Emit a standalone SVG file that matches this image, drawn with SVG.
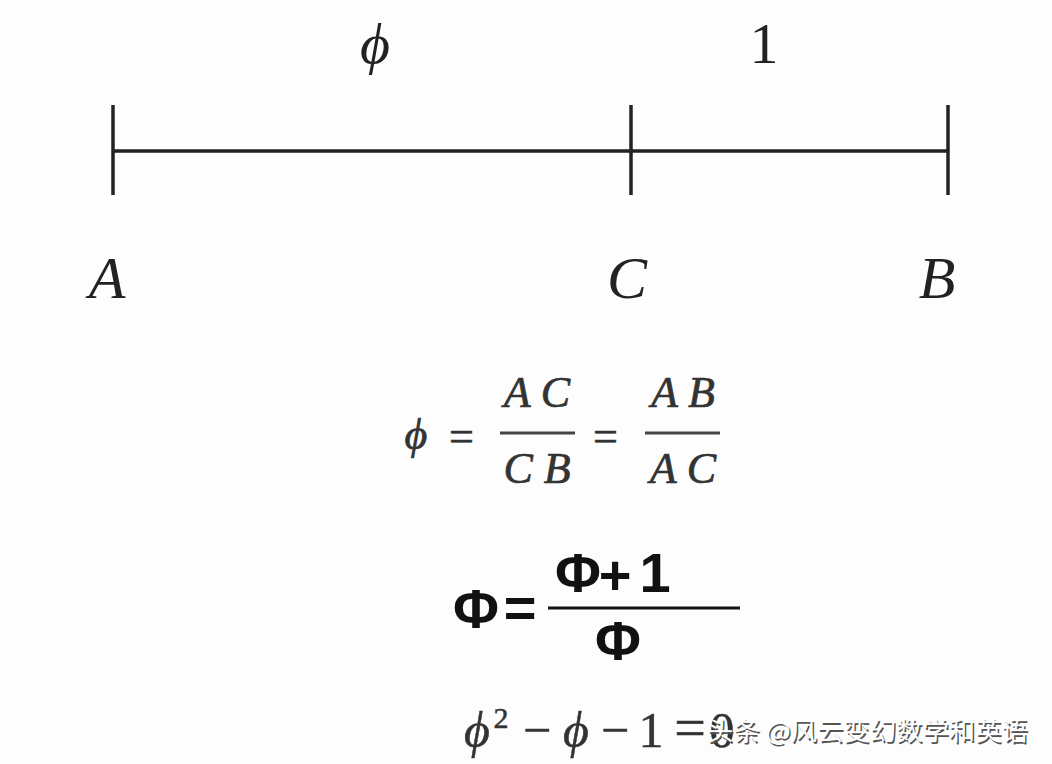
<svg xmlns="http://www.w3.org/2000/svg" width="1052" height="764" viewBox="0 0 1052 764">
<style>
.lbl{fill:#222}
.mid{font-style:italic;fill:#333;stroke:#333;stroke-width:0.7;font-size:44px;text-anchor:middle}
.bold{font-weight:bold;fill:#111;font-size:56px;text-anchor:middle}
.quad{fill:#333;stroke:#333;stroke-width:0.5;text-anchor:middle}
.seg{stroke:#222;stroke-width:3.5;fill:none}
.frac{stroke:#444;stroke-width:3}
.wm{font-size:25px}
</style>
<rect width="1052" height="764" fill="#fdfdfd"/>
<g id="connectors">
<line class="seg" x1="113" y1="151" x2="948" y2="151"/>
</g>
<g id="tick-A"><line class="seg" x1="113" y1="105" x2="113" y2="195"/></g>
<g id="tick-C"><line class="seg" x1="631" y1="105" x2="631" y2="195"/></g>
<g id="tick-B"><line class="seg" x1="948" y1="105" x2="948" y2="195"/></g>
<g id="label-phi"><text class="lbl" font-family="Liberation Serif" x="375" y="63" font-size="58" font-style="italic" text-anchor="middle">ϕ</text></g>
<g id="label-one"><text class="lbl" font-family="Liberation Serif" x="764" y="63" font-size="58" text-anchor="middle">1</text></g>
<g id="point-A"><text class="lbl" font-family="Liberation Serif" x="107" y="298" font-size="60" font-style="italic" text-anchor="middle">A</text></g>
<g id="point-C"><text class="lbl" font-family="Liberation Serif" x="627" y="298" font-size="60" font-style="italic" text-anchor="middle">C</text></g>
<g id="point-B"><text class="lbl" font-family="Liberation Serif" x="937" y="298" font-size="60" font-style="italic" text-anchor="middle">B</text></g>
<g id="ratio-formula">
<text class="mid" font-family="Liberation Serif" x="416" y="449">ϕ</text>
<text class="mid" font-family="Liberation Serif" x="461" y="451" font-style="normal" font-size="54">=</text>
<text class="mid" font-family="Liberation Serif" x="537" y="407">A C</text>
<line class="frac" x1="500" y1="433" x2="575" y2="433"/>
<text class="mid" font-family="Liberation Serif" x="537" y="483">C B</text>
<text class="mid" font-family="Liberation Serif" x="605" y="451" font-style="normal" font-size="54">=</text>
<text class="mid" font-family="Liberation Serif" x="683" y="407">A B</text>
<line class="frac" x1="645" y1="433" x2="720" y2="433"/>
<text class="mid" font-family="Liberation Serif" x="683" y="483">A C</text>
</g>
<g id="bold-formula">
<text class="bold" font-family="Liberation Sans" x="476" y="628">Φ</text>
<text class="bold" font-family="Liberation Sans" x="520" y="627">=</text>
<text class="bold" font-family="Liberation Sans" x="578" y="592">Φ</text>
<text class="bold" font-family="Liberation Sans" x="615" y="594">+</text>
<text class="bold" font-family="Liberation Sans" x="655" y="592">1</text>
<line x1="548" y1="608" x2="740" y2="608" stroke="#111" stroke-width="3"/>
<text class="bold" font-family="Liberation Sans" x="618" y="660">Φ</text>
</g>
<g id="quadratic" font-size="50">
<text class="quad" font-family="Liberation Serif" x="477" y="747" font-style="italic">ϕ</text>
<text class="quad" font-family="Liberation Serif" x="501" y="728" font-size="30">2</text>
<text class="quad" font-family="Liberation Serif" x="537" y="747">−</text>
<text class="quad" font-family="Liberation Serif" x="576" y="747" font-style="italic">ϕ</text>
<text class="quad" font-family="Liberation Serif" x="615" y="747">−</text>
<text class="quad" font-family="Liberation Serif" x="651" y="747">1</text>
<text class="quad" font-family="Liberation Serif" x="690" y="747" font-size="56">=</text>
<text class="quad" font-family="Liberation Serif" x="722" y="747">0</text>
</g>
<g id="watermark">
<text class="wm" font-family="Noto Sans CJK SC" x="708.5" y="741.5" fill="#555" textLength="321" lengthAdjust="spacingAndGlyphs">头条 @风云变幻数学和英语</text>
<text class="wm" font-family="Noto Sans CJK SC" x="707" y="740" fill="#ffffff" textLength="321" lengthAdjust="spacingAndGlyphs">头条 @风云变幻数学和英语</text>
</g>
</svg>
